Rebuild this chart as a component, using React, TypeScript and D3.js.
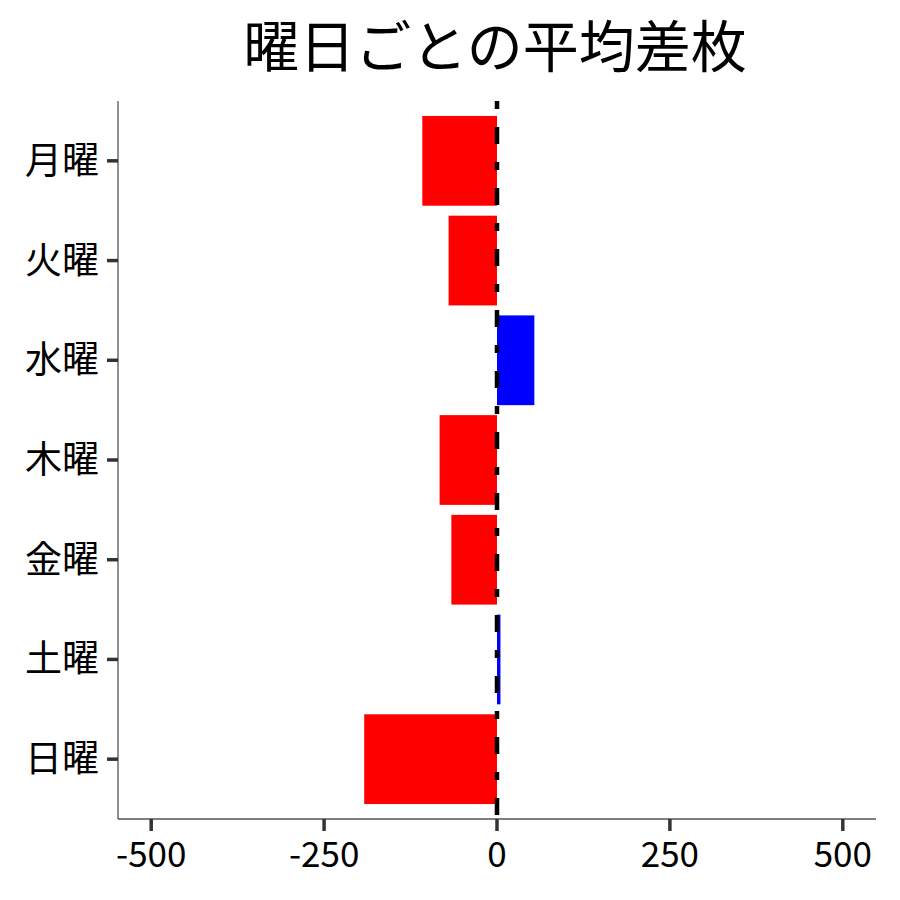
import React from "react";
import * as d3 from "d3";

const WIDTH = 900;
const HEIGHT = 900;
const MARGIN = { top: 101, right: 24, bottom: 81, left: 118 };

const days = ["月曜", "火曜", "水曜", "木曜", "金曜", "土曜", "日曜"];
const avgDiff = [-108, -70, 54, -83, -66, 5, -192];
const xTicks = [-500, -250, 0, 250, 500];

const FONT = "'Noto Sans CJK JP', 'Noto Sans', sans-serif";

const App = () => {
  const boundsWidth = WIDTH - MARGIN.left - MARGIN.right;
  const boundsHeight = HEIGHT - MARGIN.top - MARGIN.bottom;

  const xScale = d3.scaleLinear().domain([-548, 548]).range([0, boundsWidth]);
  const yScale = d3
    .scaleBand<string>()
    .domain(days)
    .range([0, boundsHeight])
    .paddingInner(0.1)
    .paddingOuter(0.15);

  const bars = days.map((d, i) => {
    const v = avgDiff[i];
    const x0 = xScale(Math.min(0, v));
    const x1 = xScale(Math.max(0, v));
    return (
      <rect
        key={d}
        x={x0}
        y={yScale(d)}
        width={x1 - x0}
        height={yScale.bandwidth()}
        fill={v >= 0 ? "#0000ff" : "#ff0000"}
      />
    );
  });

  return (
    <svg width={WIDTH} height={HEIGHT} style={{ display: "block", margin: "-8px" }}>
      <rect width={WIDTH} height={HEIGHT} fill="#fff" />
      <text
        x={MARGIN.left + boundsWidth / 2 - 2}
        y={67}
        textAnchor="middle"
        fontFamily={FONT}
        fontSize={56}
        fill="#000"
      >
        曜日ごとの平均差枚
      </text>
      <g transform={`translate(${MARGIN.left},${MARGIN.top})`}>
        {bars}
        {/* zero reference line */}
        <line
          x1={xScale(0)}
          x2={xScale(0)}
          y1={0}
          y2={boundsHeight}
          stroke="#000"
          strokeWidth={4.5}
          strokeDasharray="8 18 17 18"
        />
        {/* axes */}
        <line x1={0} x2={0} y1={0} y2={boundsHeight} stroke="#555" strokeWidth={1.3} />
        <line x1={0} x2={boundsWidth} y1={boundsHeight} y2={boundsHeight} stroke="#555" strokeWidth={1.3} />
        {days.map((d) => {
          const cy = (yScale(d) ?? 0) + yScale.bandwidth() / 2;
          return (
            <g key={d}>
              <line x1={-11} x2={0} y1={cy} y2={cy} stroke="#333" strokeWidth={3.5} />
              <text
                x={-19}
                y={cy + 13}
                textAnchor="end"
                fontFamily={FONT}
                fontSize={37}
                fill="#000"
              >
                {d}
              </text>
            </g>
          );
        })}
        {xTicks.map((t) => (
          <g key={t} transform={`translate(${xScale(t)},${boundsHeight})`}>
            <line y1={0} y2={12} stroke="#333" strokeWidth={3.5} />
            <text y={48} textAnchor="middle" fontFamily={FONT} fontSize={35} fill="#000">
              {t}
            </text>
          </g>
        ))}
      </g>
    </svg>
  );
};

export default App;
